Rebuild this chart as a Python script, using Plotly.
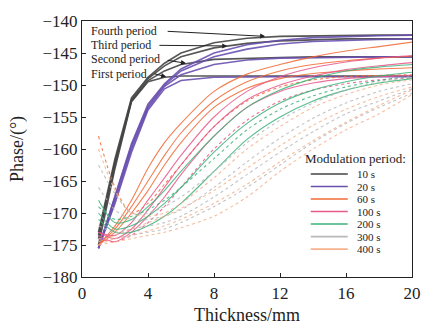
import plotly.graph_objects as go

# ---------------- data ----------------
X = [1, 2, 3, 4, 5, 6, 8, 10, 12, 14, 16, 18, 20]

GROUPS = ["10 s", "20 s", "60 s", "100 s", "200 s", "300 s", "400 s"]
COLORS = ["#444444", "#6a50b0", "#f26a35", "#e8588a", "#3db37a", "#b9b9b9", "#f6b28e"]

s10 = [
    [-175.0, -163.0, -152.6, -149.5, -148.8, -148.6, -148.6, -148.6, -148.6, -148.6, -148.6, -148.6, -148.6],
    [-174.0, -162.5, -152.5, -149.3, -147.8, -146.8, -146.0, -145.8, -145.7, -145.6, -145.6, -145.6, -145.6],
    [-173.5, -162.0, -152.3, -149.0, -147.0, -145.6, -144.2, -143.5, -143.1, -142.9, -142.8, -142.8, -142.8],
    [-173.0, -161.5, -152.0, -148.8, -146.6, -145.0, -143.4, -142.7, -142.4, -142.3, -142.2, -142.2, -142.2],
]
s20 = [
    [-175.5, -168.5, -160.5, -153.9, -150.6, -149.3, -148.8, -148.7, -148.7, -148.7, -148.7, -148.7, -148.7],
    [-175.5, -168.0, -160.0, -153.6, -150.2, -148.4, -146.8, -146.1, -145.8, -145.7, -145.6, -145.6, -145.6],
    [-175.5, -167.5, -159.5, -153.3, -150.0, -147.8, -145.6, -144.4, -143.6, -143.2, -143.0, -142.9, -142.8],
    [-175.5, -167.3, -159.2, -153.0, -149.8, -147.5, -145.0, -143.7, -143.0, -142.6, -142.4, -142.3, -142.2],
]
s60 = [
    [-175.0, -172.0, -168.0, -163.0, -159.0, -156.0, -151.0, -148.3, -146.8, -145.6, -144.7, -144.0, -143.3],
    [-175.0, -172.5, -169.0, -165.0, -161.0, -157.5, -152.5, -149.5, -147.8, -146.8, -146.2, -145.8, -145.5],
    [-175.0, -173.0, -170.0, -166.5, -162.5, -159.0, -153.5, -150.5, -149.0, -148.2, -147.8, -147.5, -147.3],
    [-158.0, -166.0, -170.0, -168.5, -165.5, -162.5, -156.5, -152.5, -150.3, -149.2, -148.7, -148.5, -148.4],
]
s100 = [
    [-173.0, -173.5, -171.5, -168.0, -164.5, -161.0, -155.0, -151.0, -148.7, -147.3, -146.4, -145.8, -145.4],
    [-173.0, -174.0, -172.5, -169.5, -166.0, -162.5, -156.5, -152.3, -150.0, -148.6, -147.6, -147.0, -146.5],
    [-173.5, -174.5, -173.0, -170.5, -167.5, -164.0, -158.0, -153.5, -151.0, -149.7, -149.0, -148.7, -148.5],
    [-174.0, -174.5, -173.5, -171.5, -169.0, -166.0, -160.0, -155.5, -152.5, -150.8, -149.8, -149.2, -148.9],
]
s200 = [
    [-168.0, -171.5, -171.0, -169.0, -166.5, -163.5, -158.0, -153.5, -150.8, -149.0, -147.8, -147.2, -146.8],
    [-170.0, -172.5, -172.0, -170.5, -168.5, -166.0, -160.5, -156.0, -152.8, -150.8, -149.5, -148.6, -148.0],
    [-171.0, -173.0, -173.0, -172.0, -170.5, -168.5, -163.5, -158.5, -155.0, -152.5, -150.8, -149.7, -149.0],
    [-169.0, -171.0, -170.5, -169.5, -168.0, -166.0, -161.5, -157.0, -153.8, -151.7, -150.3, -149.3, -148.6],
]
s300 = [
    [-162.5, -167.0, -170.0, -170.0, -169.0, -167.5, -163.5, -159.0, -155.5, -152.8, -150.8, -149.5, -148.7],
    [-166.0, -169.5, -171.0, -171.0, -170.5, -169.5, -166.0, -162.0, -158.3, -155.2, -152.8, -151.0, -149.8],
    [-172.0, -173.0, -172.5, -172.0, -171.5, -170.5, -167.5, -164.0, -160.5, -157.3, -154.5, -152.5, -150.6],
    [-174.0, -174.0, -173.5, -173.0, -172.5, -171.5, -169.0, -166.0, -162.5, -159.0, -156.0, -153.5, -151.3],
]
s400 = [
    [-160.0, -166.5, -170.0, -170.5, -170.0, -168.5, -164.5, -160.0, -156.5, -153.5, -151.5, -150.0, -149.2],
    [-174.5, -173.5, -172.5, -171.5, -170.5, -169.3, -166.5, -163.0, -159.5, -156.3, -153.8, -151.8, -150.3],
    [-175.0, -174.0, -173.5, -172.8, -172.0, -171.0, -168.5, -165.5, -162.0, -158.7, -155.8, -153.2, -150.8],
    [-175.0, -174.5, -174.0, -173.5, -173.0, -172.3, -170.5, -167.5, -163.5, -160.0, -157.0, -154.5, -151.5],
]
SERIES = [s10, s20, s60, s100, s200, s300, s400]
# which curves of each group are dotted
DOTTED = [
    [False] * 4,
    [False] * 4,
    [False, False, False, True],
    [False, False, False, True],
    [False, False, False, True],
    [True] * 4,
    [True] * 4,
]

# annotation labels: text, tail (x, y), head (x, y)
ANN_TEXT = ["Fourth period", "Third period", "Second period", "First period"]
ANN_TAIL = [(5.1, -141.6), (4.6, -143.8), (5.1, -146.1), (4.3, -148.2)]
ANN_HEAD = [(11.1, -142.4), (8.8, -143.9), (6.3, -146.6), (5.1, -148.7)]
ANN_TEXT_Y = [-141.5, -143.8, -146.0, -148.3]

SERIF = "Liberation Serif"

fig = go.Figure()
for gi, (grp, col) in enumerate(zip(GROUPS, COLORS)):
    for ci, ys in enumerate(SERIES[gi]):
        dotted = DOTTED[gi][ci]
        fig.add_trace(go.Scatter(
            x=X, y=ys, mode="lines",
            line=dict(color=col,
                      width=1.6 if gi < 2 else 1.1,
                      dash="dot" if dotted else "solid",
                      shape="linear" if gi < 2 else "spline",
                      smoothing=0.8),
            opacity=0.9 if gi < 2 else 0.85,
            showlegend=False, hoverinfo="skip",
        ))

# arrows + labels
for txt, (tx, ty), (hx, hy), ly in zip(ANN_TEXT, ANN_TAIL, ANN_HEAD, ANN_TEXT_Y):
    fig.add_annotation(x=hx, y=hy, ax=tx, ay=ty, xref="x", yref="y",
                       axref="x", ayref="y", text="", showarrow=True,
                       arrowhead=2, arrowsize=1, arrowwidth=1, arrowcolor="#222")
    fig.add_annotation(x=0.45, y=ly, xref="x", yref="y", text=txt,
                       showarrow=False, xanchor="left", yanchor="middle",
                       font=dict(family=SERIF, size=12, color="#222"))

# manual legend (layout positions in paper coords)
PX0, PW, PY0, PH = 82, 339, 16, 266
def px2x(p):
    return (p - PX0) / PW
def py2y(p):
    return (PY0 + PH - p) / PH

fig.add_annotation(x=px2x(417), y=py2y(159), xref="paper", yref="paper",
                   text="Modulation period:", showarrow=False, xanchor="right",
                   yanchor="middle", font=dict(family=SERIF, size=13, color="#222"))
for i, (grp, col) in enumerate(zip(GROUPS, COLORS)):
    yy = py2y(175 + 13 * i)
    fig.add_shape(type="line", xref="paper", yref="paper",
                  x0=px2x(317), x1=px2x(355), y0=yy, y1=yy,
                  line=dict(color=col, width=1.6))
    fig.add_annotation(x=px2x(362), y=yy, xref="paper", yref="paper",
                       text=grp, showarrow=False, xanchor="left", yanchor="middle",
                       font=dict(family=SERIF, size=11, color="#222"))

axis_common = dict(showgrid=False, zeroline=False, showline=True, linecolor="#222",
                   linewidth=1.2, mirror=True, ticks="inside", ticklen=4,
                   tickcolor="#222", tickfont=dict(family=SERIF, size=17, color="#222"))
fig.update_xaxes(range=[0, 20], tickvals=[0, 4, 8, 12, 16, 20],
                 title=dict(text="Thickness/mm", font=dict(family=SERIF, size=18, color="#222"),
                            standoff=6), **axis_common)
fig.update_yaxes(range=[-180, -140], tickvals=[-180, -175, -170, -165, -160, -155, -150, -145, -140],
                 ticktext=["\u2212180", "\u2212175", "\u2212170", "\u2212165", "\u2212160",
                           "\u2212155", "\u2212150", "\u2212145", "\u2212140"],
                 title=dict(text="Phase/(°)", font=dict(family=SERIF, size=18, color="#222"),
                            standoff=14), **axis_common)
fig.update_layout(width=433, height=333, margin=dict(l=82, r=12, t=16, b=51),
                  plot_bgcolor="white", paper_bgcolor="white")
fig.write_html("out.html")
